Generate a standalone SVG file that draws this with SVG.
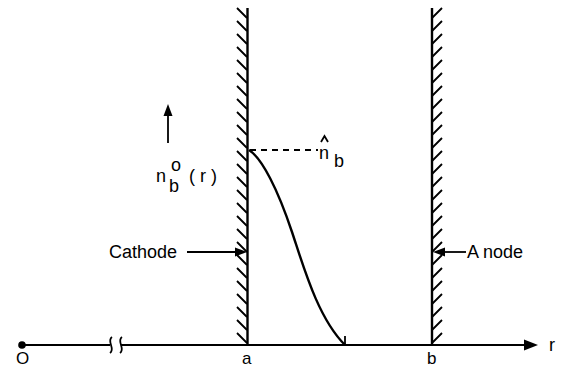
<svg xmlns="http://www.w3.org/2000/svg" width="566" height="368" viewBox="0 0 566 368">
<defs>
<style>
.ln{stroke:#000;stroke-width:2.4;fill:none}
.th{stroke:#000;stroke-width:1.8;fill:none}
.tx{font-family:"Liberation Sans",Arial,sans-serif;font-size:18px;fill:#000}
.ax{font-size:17px}
</style>
</defs>
<rect width="566" height="368" fill="#fff"/>
<g id="cathode-wall">
<path class="th" d="M237,8 l10,10 m-10,3 l10,10 m-10,3 l10,10 m-10,3 l10,10 m-10,3 l10,10 m-10,3 l10,10 m-10,3 l10,10 m-10,3 l10,10 m-10,3 l10,10 m-10,3 l10,10 m-10,3 l10,10 m-10,3 l10,10 m-10,3 l10,10 m-10,3 l10,10 m-10,3 l10,10 m-10,3 l10,10 m-10,3 l10,10 m-10,3 l10,10 m-10,3 l10,10 m-10,3 l10,10 m-10,3 l10,10 m-10,3 l10,10 m-10,3 l10,10 m-10,3 l10,10 m-10,3 l10,10 m-10,3 l10,10"/>
<line x1="247.5" y1="8" x2="247.5" y2="345" class="ln"/>
</g>
<g id="anode-wall">
<path class="th" d="M432,18 l10,-10 m-10,23 l10,-10 m-10,23 l10,-10 m-10,23 l10,-10 m-10,23 l10,-10 m-10,23 l10,-10 m-10,23 l10,-10 m-10,23 l10,-10 m-10,23 l10,-10 m-10,23 l10,-10 m-10,23 l10,-10 m-10,23 l10,-10 m-10,23 l10,-10 m-10,23 l10,-10 m-10,23 l10,-10 m-10,23 l10,-10 m-10,23 l10,-10 m-10,23 l10,-10 m-10,23 l10,-10 m-10,23 l10,-10 m-10,23 l10,-10 m-10,23 l10,-10 m-10,23 l10,-10 m-10,23 l10,-10 m-10,23 l10,-10 m-10,23 l10,-10"/>
<line x1="432" y1="8" x2="432" y2="345" class="ln"/>
</g>
<g id="axis">
<line x1="22" y1="345" x2="110" y2="345" class="th"/>
<path d="M112,337 C106,341 116,349 110,353 M122,337 C116,341 126,349 120,353" class="th"/>
<line x1="121" y1="345" x2="526" y2="345" class="th"/>
<polygon points="538,345 524,339.5 524,350.5" fill="#000"/>
<circle cx="22" cy="345" r="3.8" fill="#000"/>
<text class="tx ax" x="16" y="364">O</text>
<text class="tx ax" x="242" y="364">a</text>
<text class="tx ax" x="427" y="364">b</text>
<text class="tx" x="549" y="351">r</text>
</g>
<g id="profile">
<path d="M249,150 C262,158 278,190 292,232 C304,268 318,318 345,345" class="ln"/>
<line x1="345" y1="336" x2="345" y2="345" class="th"/>
<line x1="250" y1="150" x2="318" y2="150" class="th" stroke-dasharray="6,5"/>
<text class="tx" x="319" y="159">n</text>
<path d="M321,142 L324.5,136 L328,142" class="th" stroke-width="1.5"/>
<text class="tx" x="334" y="167" font-size="17">b</text>
</g>
<g id="ylabel">
<line x1="168" y1="112" x2="168" y2="143" class="th"/>
<polygon points="168,104 163.5,116 172.5,116" fill="#000"/>
<text class="tx" x="156" y="182">n</text>
<text class="tx" x="171" y="171" font-size="15">o</text>
<text class="tx" x="169" y="192" font-size="17">b</text>
<text class="tx" x="189" y="182" xml:space="preserve">( r )</text>
</g>
<g id="cathode-label">
<text class="tx" x="109" y="258">Cathode</text>
<line x1="187" y1="252" x2="238" y2="252" class="th"/>
<polygon points="247,252 235,247.5 235,256.5" fill="#000"/>
</g>
<g id="anode-label">
<line x1="442" y1="252" x2="466" y2="252" class="th"/>
<polygon points="433,252 445,247.5 445,256.5" fill="#000"/>
<text class="tx" x="467" y="258" font-size="19">A node</text>
</g>
</svg>
